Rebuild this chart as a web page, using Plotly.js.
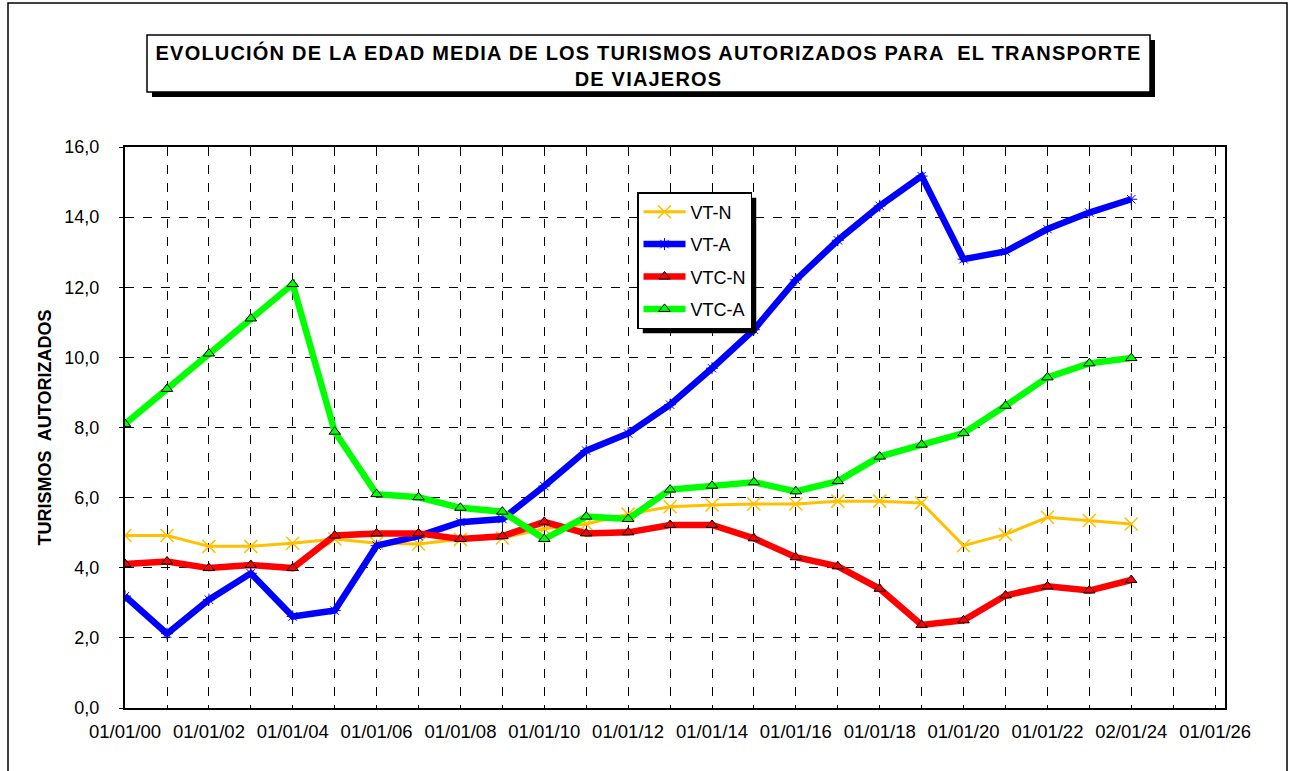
<!DOCTYPE html>
<html>
<head>
<meta charset="utf-8">
<script src="https://cdn.plot.ly/plotly-3.0.1.min.js"></script>
<style>
html,body{margin:0;padding:0;background:#fff;}
#chart{width:1296px;height:771px;}
.gtitle{letter-spacing:1.2px;}
</style>
</head>
<body>
<div id="chart"></div>
<script>
// ---- data ----
const dates = ['2000-01-01','2001-01-01','2002-01-01','2003-01-01','2004-01-01','2005-01-01','2006-01-01','2007-01-01','2008-01-01','2009-01-01','2010-01-01','2011-01-01','2012-01-01','2013-01-01','2014-01-01','2015-01-01','2016-01-01','2017-01-01','2018-01-01','2019-01-01','2020-01-01','2021-01-01','2022-01-01','2023-01-01','2024-01-01'];
const vtN  = [4.92,4.92,4.61,4.61,4.70,4.82,4.70,4.68,4.81,4.85,5.11,5.25,5.53,5.74,5.79,5.82,5.82,5.90,5.90,5.85,4.63,4.95,5.44,5.35,5.25];
const vtA  = [3.19,2.12,3.09,3.84,2.61,2.78,4.63,4.90,5.30,5.39,6.33,7.34,7.83,8.65,9.69,10.79,12.21,13.34,14.32,15.17,12.80,13.02,13.66,14.13,14.51];
const vtcN = [4.11,4.18,3.99,4.08,3.99,4.92,4.98,4.98,4.82,4.90,5.31,4.98,5.01,5.22,5.22,4.84,4.30,4.04,3.40,2.37,2.50,3.21,3.47,3.35,3.65];
const vtcA = [8.10,9.10,10.11,11.11,12.09,7.88,6.10,6.01,5.71,5.60,4.82,5.46,5.39,6.23,6.34,6.44,6.18,6.47,7.17,7.51,7.84,8.62,9.43,9.83,9.98];
const seriesNames = ['VT-N','VT-A','VTC-N','VTC-A'];
const tickDates = ['2000-01-01','2001-01-01','2002-01-01','2003-01-01','2004-01-01','2005-01-01','2006-01-01','2007-01-01','2008-01-01','2009-01-01','2010-01-01','2011-01-01','2012-01-01','2013-01-01','2014-01-01','2015-01-01','2016-01-01','2017-01-01','2018-01-01','2019-01-01','2020-01-01','2021-01-01','2022-01-01','2023-01-01','2024-01-01','2025-01-01','2026-01-01'];
const tickLabels = ['01/01/00','','01/01/02','','01/01/04','','01/01/06','','01/01/08','','01/01/10','','01/01/12','','01/01/14','','01/01/16','','01/01/18','','01/01/20','','01/01/22','','02/01/24','','01/01/26'];
const chartTitle = 'EVOLUCIÓN DE LA EDAD MEDIA DE LOS TURISMOS AUTORIZADOS PARA  EL TRANSPORTE<br>DE VIAJEROS';
const yTitle = 'TURISMOS  AUTORIZADOS';

// ---- layout helpers (pixel -> paper) ----
const L = 125, R = 1225, T = 147, B = 708;
const PX = x => (x - L) / (R - L);
const PY = y => (B - y) / (B - T);
const FONT = 'Arial, Liberation Sans, sans-serif';

const traces = [
  {x: dates, y: vtN, name: seriesNames[0], legendgroup: 'a', mode: 'lines+markers',
   line: {color: '#FFC000', width: 3},
   marker: {symbol: 'x-thin-open', size: 13, color: '#FFC000', line: {color: '#FFC000', width: 1.5}}},
  {x: dates, y: vtA, name: seriesNames[1], legendgroup: 'b', mode: 'lines+markers',
   line: {color: '#0000FF', width: 6.5},
   marker: {symbol: 'asterisk-open', size: 10, color: '#0000FF', line: {color: '#3333FF', width: 1}}},
  {x: dates, y: vtcN, name: seriesNames[2], legendgroup: 'c', mode: 'lines+markers',
   line: {color: '#FF0000', width: 6.5},
   marker: {symbol: 'triangle-up', size: 10, color: '#FF0000', line: {color: '#000000', width: 1}}},
  {x: dates, y: vtcA, name: seriesNames[3], legendgroup: 'd', mode: 'lines+markers',
   line: {color: '#00FF00', width: 6.5},
   marker: {symbol: 'triangle-up', size: 10, color: '#00FF00', line: {color: '#000000', width: 1}}}
];

const layout = {
  width: 1296, height: 771,
  paper_bgcolor: '#ffffff', plot_bgcolor: '#ffffff',
  margin: {l: L, r: 1296 - R, t: T, b: 771 - B, pad: 0},
  separators: ',.',
  font: {family: FONT, color: '#000000', size: 18},
  title: {
    text: chartTitle,
    font: {family: FONT, size: 20, weight: 'bold', color: '#000'},
    xref: 'container', yref: 'container', x: 648.5 / 1296, y: 1 - 60 / 771,
    xanchor: 'center', yanchor: 'top'
  },
  xaxis: {
    type: 'date',
    range: ['2000-01-01', '2026-03-28'],
    tickmode: 'array', tickvals: tickDates, ticktext: tickLabels,
    showgrid: true, gridcolor: '#000000', gridwidth: 1, griddash: 'dash',
    showline: true, linecolor: '#000000', linewidth: 2, mirror: true,
    ticks: '', ticklabelstandoff: 6,
    tickfont: {size: 18.5, family: FONT},
    zeroline: false, fixedrange: true
  },
  yaxis: {
    range: [0, 16], dtick: 2, tick0: 0, tickformat: '.1f',
    showgrid: true, gridcolor: '#000000', gridwidth: 1, griddash: 'dash',
    showline: true, linecolor: '#000000', linewidth: 2, mirror: true,
    ticks: 'outside', ticklen: 4, tickcolor: '#000', ticklabelstandoff: 16,
    tickfont: {size: 18, family: FONT},
    title: {text: yTitle, font: {size: 18, weight: 'bold', family: FONT}, standoff: 8},
    zeroline: false, fixedrange: true
  },
  showlegend: true,
  legend: {
    x: PX(637), y: PY(192), xanchor: 'left', yanchor: 'top',
    bgcolor: '#ffffff', bordercolor: '#000000', borderwidth: 1.5,
    font: {size: 18, family: FONT},
    traceorder: 'grouped', tracegroupgap: 6, itemwidth: 42
  },
  shapes: [
    // outer frame
    {type: 'rect', xref: 'paper', yref: 'paper', x0: PX(8), x1: PX(1287), y0: PY(780), y1: PY(3),
     line: {color: '#000', width: 1.5}, fillcolor: 'rgba(0,0,0,0)', layer: 'below'},
    // title box shadow and box
    {type: 'rect', xref: 'paper', yref: 'paper', x0: PX(152), x1: PX(1155), y0: PY(97), y1: PY(40),
     line: {width: 0}, fillcolor: '#000', layer: 'above'},
    {type: 'rect', xref: 'paper', yref: 'paper', x0: PX(147), x1: PX(1150), y0: PY(92), y1: PY(35),
     line: {color: '#000', width: 1.5}, fillcolor: '#fff', layer: 'above'},
    // legend shadow (repositioned after render to follow the legend box)
    {type: 'rect', xref: 'paper', yref: 'paper', x0: PX(642), x1: PX(758), y0: PY(327), y1: PY(197),
     line: {width: 0}, fillcolor: '#000', layer: 'above'}
  ]
};

const gd = document.getElementById('chart');
Plotly.newPlot(gd, traces, layout, {displayModeBar: false, staticPlot: true}).then(() => {
  const bg = gd.querySelector('.legend .bg');
  if (!bg) return;
  const r = bg.getBoundingClientRect();
  const c = gd.getBoundingClientRect();
  const x0 = r.left - c.left + 5, x1 = r.right - c.left + 5;
  const y0 = r.top - c.top + 5, y1 = r.bottom - c.top + 5;
  return Plotly.relayout(gd, {
    'shapes[3].x0': PX(x0), 'shapes[3].x1': PX(x1),
    'shapes[3].y0': PY(y1), 'shapes[3].y1': PY(y0)
  });
});
</script>
</body>
</html>
